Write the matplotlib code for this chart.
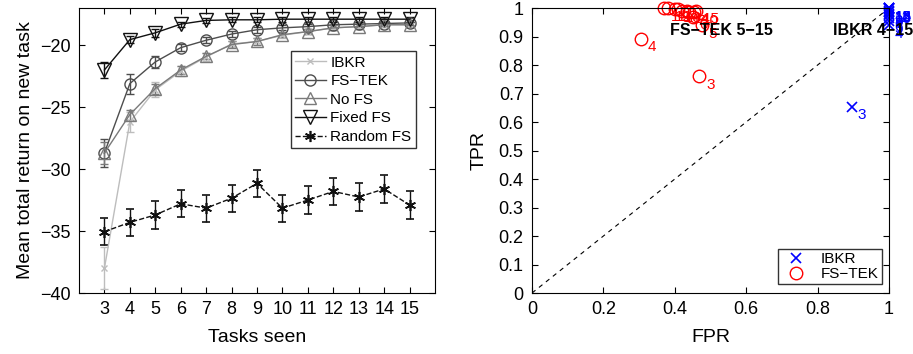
import matplotlib
matplotlib.use("Agg")
import matplotlib.pyplot as plt

plt.rcParams['font.family'] = ['Liberation Sans', 'DejaVu Sans']

# ---- left panel data ----
tasks = [3, 4, 5, 6, 7, 8, 9, 10, 11, 12, 13, 14, 15]

ibkr_mean = [-38.0, -26.2, -23.6, -22.1, -20.95, -19.9, -19.7, -19.2, -18.9, -18.6, -18.5, -18.35, -18.35]
ibkr_err = [1.7, 0.8, 0.6, 0.4, 0.3, 0.25, 0.25, 0.2, 0.2, 0.2, 0.2, 0.2, 0.2]

fstek_mean = [-28.7, -23.1, -21.35, -20.2, -19.6, -19.1, -18.75, -18.6, -18.5, -18.35, -18.3, -18.25, -18.2]
fstek_err = [1.1, 0.8, 0.5, 0.3, 0.25, 0.25, 0.25, 0.2, 0.2, 0.2, 0.2, 0.2, 0.2]

nofs_mean = [-28.7, -25.6, -23.5, -22.0, -20.9, -19.95, -19.7, -19.15, -18.9, -18.6, -18.5, -18.35, -18.35]
nofs_err = [0.9, 0.4, 0.4, 0.3, 0.25, 0.25, 0.25, 0.2, 0.2, 0.2, 0.2, 0.2, 0.2]

fixed_mean = [-22.0, -19.55, -19.0, -18.3, -18.0, -17.95, -17.95, -17.9, -17.9, -17.9, -17.9, -17.9, -17.9]
fixed_err = [0.67, 0.3, 0.3, 0.2, 0.2, 0.2, 0.2, 0.2, 0.2, 0.2, 0.2, 0.2, 0.2]

random_mean = [-35.05, -34.3, -33.7, -32.8, -33.15, -32.35, -31.15, -33.15, -32.5, -31.8, -32.25, -31.6, -32.9]
random_err = [1.1, 1.1, 1.1, 1.1, 1.1, 1.1, 1.1, 1.1, 1.1, 1.1, 1.1, 1.1, 1.1]

series_labels = ['IBKR', 'FS\u2212TEK', 'No FS', 'Fixed FS', 'Random FS']

# ---- right panel data ----
fstek_fpr = [0.468, 0.305, 0.475, 0.45, 0.44, 0.42, 0.40, 0.455, 0.37, 0.38, 0.41, 0.435, 0.46]
fstek_tpr = [0.761, 0.893, 0.94, 0.97, 0.985, 0.99, 0.995, 0.985, 1.0, 1.0, 0.995, 0.99, 0.99]
fstek_ids = ["3", "4", "5", "6", "7", "8", "9", "10", "11", "12", "13", "14", "15"]

ibkr_fpr = [0.895, 1.0, 1.0, 1.0, 1.0, 1.0, 1.0, 1.0, 1.0, 1.0, 1.0, 1.0, 1.0]
ibkr_tpr = [0.654, 0.94, 0.955, 0.965, 0.975, 0.98, 0.985, 0.99, 0.995, 1.0, 1.0, 1.0, 1.0]
ibkr_ids = ["3", "4", "5", "6", "7", "8", "9", "10", "11", "12", "13", "14", "15"]

fig = plt.figure(figsize=(9.13, 3.54), dpi=100)
ax1 = fig.add_axes([0.0865, 0.1723, 0.390, 0.805])
ax2 = fig.add_axes([0.5827, 0.1723, 0.391, 0.805])

def series(ax, y, err, color, marker, ls='-', ms=7, mew=1.0):
    c = ax.errorbar(tasks, y, yerr=err, color=color, ecolor=color, marker=marker, ls=ls,
                    mfc='none', mec=color, ms=ms, mew=mew, lw=1.0, capsize=3, elinewidth=1.0)
    return c[0]

handles = [
    series(ax1, ibkr_mean, ibkr_err, '#bdbdbd', 'x', ms=5),
    series(ax1, fstek_mean, fstek_err, '#4d4d4d', 'o', ms=8),
    series(ax1, nofs_mean, nofs_err, '#7a7a7a', '^', ms=9),
    series(ax1, fixed_mean, fixed_err, '#111111', 'v', ms=10),
    series(ax1, random_mean, random_err, '#111111', (6, 2, 0), ls='--', ms=8, mew=1.2),
]

ax1.set_xlim(2, 16)
ax1.set_ylim(-40, -17)
ax1.set_xticks(tasks)
ax1.set_yticks([-40, -35, -30, -25, -20])
ax1.set_yticklabels(['\u221240', '\u221235', '\u221230', '\u221225', '\u221220'])
ax1.set_xlabel('Tasks seen', fontsize=14, labelpad=8)
ax1.set_ylabel('Mean total return on new task', fontsize=14, labelpad=4)
ax1.tick_params(direction='in', top=True, right=True, labelsize=13, length=4, pad=6)
leg = ax1.legend(handles, series_labels, loc='upper right', bbox_to_anchor=(0.955, 0.86), fontsize=11,
                 frameon=True, fancybox=False, edgecolor='black', handlelength=2.0,
                 borderpad=0.3, labelspacing=0.3, handletextpad=0.3, borderaxespad=0.2)
leg.get_frame().set_linewidth(1.0)

# right panel
ax2.plot([0, 1], [0, 1], 'k--', lw=0.8, dashes=(4, 4))
ax2.plot(ibkr_fpr, ibkr_tpr, 'x', color='blue', ms=7, mew=1.2, label='IBKR', clip_on=False)
ax2.plot(fstek_fpr, fstek_tpr, 'o', color='red', mfc='none', ms=9, mew=1.0, label='FS\u2212TEK', clip_on=False)
for fx, fy, s in zip(fstek_fpr, fstek_tpr, fstek_ids):
    ax2.annotate(s, (fx, fy), xytext=(5, -9), textcoords='offset points', color='red', fontsize=11)
for bx, by, s in zip(ibkr_fpr, ibkr_tpr, ibkr_ids):
    ax2.annotate(s, (bx, by), xytext=(4, -9), textcoords='offset points', color='blue', fontsize=11,
                 annotation_clip=False)
ax2.text(0.53, 0.92, 'FS\u2212TEK 5\u221215', fontsize=11.5, fontweight='bold', ha='center', va='center')
ax2.text(0.955, 0.92, 'IBKR 4\u221215', fontsize=11.5, fontweight='bold', ha='center', va='center')

ax2.set_xlim(0, 1)
ax2.set_ylim(0, 1)
ax2.set_xticks([0, 0.2, 0.4, 0.6, 0.8, 1])
ax2.set_xticklabels(['0', '0.2', '0.4', '0.6', '0.8', '1'])
ax2.set_yticks([i / 10 for i in range(11)])
ax2.set_yticklabels(['0', '0.1', '0.2', '0.3', '0.4', '0.5', '0.6', '0.7', '0.8', '0.9', '1'])
ax2.set_xlabel('FPR', fontsize=14, labelpad=8)
ax2.set_ylabel('TPR', fontsize=14, labelpad=8)
ax2.tick_params(direction='in', top=True, right=True, labelsize=13, length=4, pad=6)
leg2 = ax2.legend(loc='lower right', bbox_to_anchor=(0.98, 0.03), fontsize=11, frameon=True,
                  fancybox=False, edgecolor='black', borderpad=0.2, labelspacing=0.1,
                  handletextpad=0.6, borderaxespad=0.0)
leg2.get_frame().set_linewidth(1.0)

fig.savefig('out.png', dpi=100)
